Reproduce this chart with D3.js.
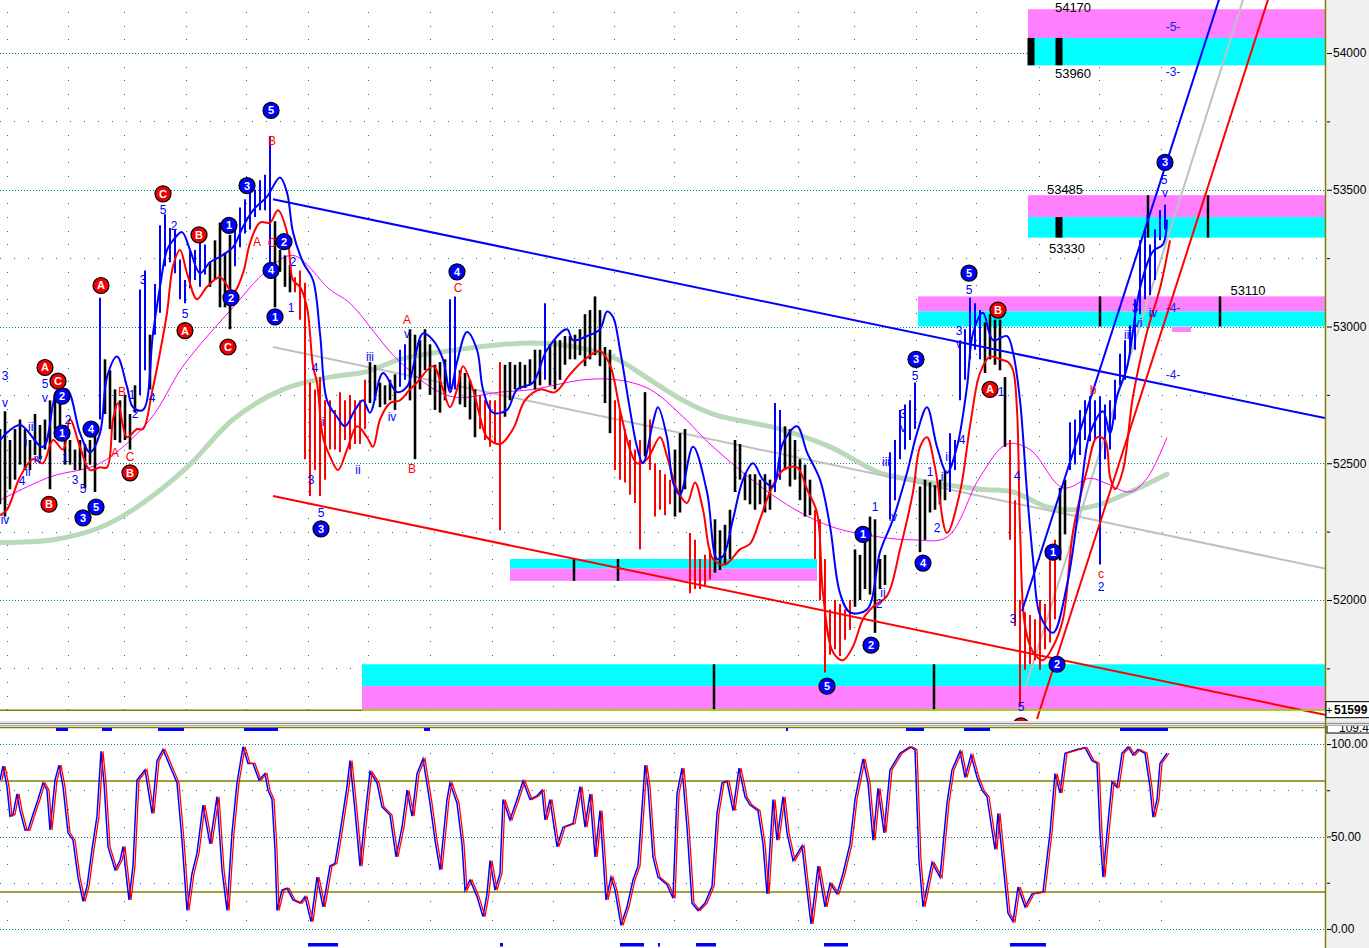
<!DOCTYPE html>
<html>
<head>
<meta charset="utf-8">
<script src="https://cdn.jsdelivr.net/npm/d3@7/dist/d3.min.js"></script>
<style>
  html, body { margin: 0; padding: 0; background: #fff; overflow: hidden; }
  svg { display: block; font-family: "Liberation Sans", Arial, sans-serif; }
</style>
</head>
<body>
<svg id="chart" width="1369" height="948"></svg>
<script>
// ── Data ───────────────────────────────────────────────────────────────────
// time axis is in bar units (one price bar per unit)
const dayTicks = [1.4, 13.6, 24.8, 37.2, 49.2, 61.6, 73.6, 86, 98.4, 110.6, 122.8, 134.8,
  147.2, 159.6, 170.8, 183.2, 195.2, 207.8, 219.8, 232.2];

const priceTicks = [52000, 52500, 53000, 53500, 54000];
const priceMinor = [51750, 52250, 52750, 53250, 53750];
const stochTicks = [0, 50, 100];
const stochMinor = [25, 75];
const stochBands = [20, 80];
const lastPrice = 51599;
const stochTop = 109.4;

const barHigh = [
  52625,52690,52585,52625,52660,52625,52585,52680,52640,52660,52730,52750,52770,52640,52585,52550,52585,52570,52585,52625,
  53105,52880,52840,52770,52730,52750,52680,52785,53135,53205,52970,53155,53370,53410,53360,53355,53245,53170,53280,53280,
  53305,53300,53235,53315,53380,53270,53335,53370,53435,53465,53500,53500,53535,53555,53695,53385,53280,53260,53225,53180,
  53205,53160,52795,52770,52815,52730,52730,52695,52760,52730,52750,52730,52730,52805,52870,52860,52795,52785,52805,52825,
  52915,52935,52990,52970,52950,52990,52935,52860,52870,52880,53100,53110,52840,52830,52805,52770,52750,52730,52730,52730,
  52870,52860,52870,52860,52870,52860,52880,52915,52915,53085,52935,52950,52950,52965,52965,52970,52990,53045,53060,53110,
  53060,52925,52915,52730,52695,52625,52585,52550,52585,52760,52660,52500,52475,52460,52440,52550,52610,52625,52245,52220,
  52150,52165,52185,52295,52255,52275,52330,52585,52570,52465,52460,52460,52440,52460,52440,52720,52695,52635,52625,52585,
  52515,52495,52440,52330,52295,52150,51965,52000,51985,51965,52000,52185,52165,52255,52305,52295,52150,52165,52540,52585,
  52695,52715,52730,52795,52415,52440,52430,52420,52440,52475,52610,52585,52950,52990,53105,53085,53060,53015,53045,53025,
  53025,52815,52585,52365,52000,51955,51945,51930,52000,51985,52145,52220,52410,52440,52650,52660,52695,52730,52745,52730,
  52745,52715,52730,52805,52900,52950,53005,53100,53315,53355,53300,53355,53425,53445
];
const barLow = [
  52350,52305,52405,52440,52495,52475,52475,52530,52515,52550,52405,52625,52585,52495,52495,52475,52475,52410,52495,52395,
  52660,52680,52625,52585,52575,52585,52550,52685,52750,52840,52770,52970,53050,53220,53235,53195,53100,53085,53140,53170,
  53145,53190,53145,53170,53070,53070,52990,53220,53290,53340,53355,53400,53425,53425,53220,53070,53200,53145,53125,53125,
  53025,52515,52380,52475,52380,52440,52550,52550,52540,52585,52550,52570,52570,52625,52720,52730,52705,52715,52730,52695,
  52780,52805,52730,52515,52770,52840,52750,52695,52685,52730,52770,52770,52715,52705,52660,52595,52625,52585,52560,52570,
  52255,52670,52730,52770,52770,52775,52785,52770,52785,52805,52785,52770,52805,52860,52880,52880,52895,52855,52880,52895,
  52855,52720,52610,52475,52440,52430,52385,52355,52185,52525,52475,52305,52330,52310,52350,52305,52320,52405,52025,52040,
  52040,52055,52075,52100,52110,52130,52150,52395,52440,52365,52350,52330,52350,52320,52330,52395,52440,52475,52415,52440,
  52365,52305,52310,52150,52000,51735,51800,51820,51795,51855,51890,51975,52000,52040,52020,51880,52040,52055,52295,52365,
  52515,52550,52585,52625,52175,52220,52320,52330,52350,52365,52395,52475,52730,52805,52880,52915,52880,52830,52880,52860,
  52840,52560,52220,51905,51610,51745,51765,51780,51745,51820,51845,51930,52145,52240,52475,52495,52530,52585,52580,52585,
  52130,52515,52550,52660,52785,52805,52900,52915,53045,53100,53115,53170,53315,53355
];
// runs of bar colouring: [first bar, state] with 0 neutral, 1 up, -1 down
const barTrend = [[0,0],[20,1],[21,0],[28,1],[30,0],[31,1],[42,0],[47,1],[55,0],[59,-1],[74,0],[80,1],
  [82,0],[90,1],[92,0],[96,-1],[101,0],[109,1],[110,0],[123,-1],[129,0],[130,-1],[135,0],[138,-1],[143,0],
  [155,1],[157,0],[163,-1],[171,0],[178,1],[184,0],[190,1],[197,0],[202,-1],[212,0],[214,1]];

const fastLine = [[0,52585],[4,52640],[8.6,52560],[11.4,52760],[13.4,52770],[16,52610],[18,52540],[20,52610],
  [21.4,52815],[23.4,52890],[25.4,52780],[26.6,52705],[28.6,52695],[30.6,52975],[32,53145],[33.4,53280],
  [34.6,53315],[36.4,53345],[38,53280],[40,53195],[42,53235],[44,53255],[46.6,53290],[48.6,53365],[50.6,53425],
  [53.4,53475],[56,53545],[57.4,53490],[58.6,53345],[60.6,53235],[62.6,53170],[64,52975],[65.4,52730],
  [67.4,52670],[69,52635],[71,52695],[72.6,52730],[74,52685],[76.6,52830],[79.4,52760],[81.4,52780],
  [84.6,52975],[86.6,52950],[88.6,52880],[90,52760],[91.4,52870],[93.4,52980],[95.4,52915],[96.6,52770],
  [98.6,52685],[101.4,52695],[103.4,52770],[106.6,52795],[109.4,52915],[113.4,52990],[114.6,52950],
  [117.4,52965],[120,52990],[121.4,53055],[122.6,53035],[124,52915],[126,52695],[127.4,52560],[128.6,52500],
  [130.6,52650],[131.6,52705],[133.4,52595],[134.6,52430],[136,52385],[138.6,52560],[141.4,52395],
  [143.4,52150],[144.6,52160],[146.6,52295],[148.6,52440],[150.6,52500],[152.6,52440],[154.6,52415],
  [156.6,52575],[159.4,52635],[161.4,52540],[164,52440],[166,52270],[168,52025],[170,51955],[173.4,51965],
  [176,52175],[178.6,52295],[181.4,52465],[183.4,52610],[185.4,52705],[187.4,52560],[189.4,52465],
  [191.4,52560],[193.4,52780],[194.6,52975],[196.6,53050],[198.6,52950],[201.4,52965],[202.6,52905],
  [204,52730],[205.4,52395],[206.6,52150],[208,51945],[210.6,51880],[213.4,52055],[216,52370],[218,52610],
  [220.6,52690],[222,52610],[223.4,52745],[225.4,52850],[228,53140],[230.6,53275],[232.6,53300],[233.4,53390]];

const slowLine = [[0,52310],[1.4,52330],[4,52450],[6.6,52515],[8.6,52500],[10.6,52585],[12.6,52550],[14,52660],
  [16,52560],[18,52475],[20,52485],[21.4,52485],[22.6,52660],[23.6,52720],[25.4,52595],[27.4,52625],
  [28.6,52625],[30.4,52760],[32,52905],[33.4,53050],[34.6,53220],[36,53280],[37.4,53195],[39.4,53100],
  [41.4,53145],[44,53180],[46.6,53125],[48.6,53195],[50,53305],[52,53380],[54,53380],[55.6,53425],
  [57.4,53345],[58.6,53170],[60,53145],[61.4,53070],[62.6,52855],[63.4,52795],[64.6,52595],[66,52525],
  [67.6,52475],[69.4,52550],[71.4,52635],[73.4,52595],[74.6,52560],[76,52660],[78,52720],[80,52730],
  [82,52770],[83.4,52795],[86.6,52855],[88.6,52770],[90,52705],[91.4,52770],[92.6,52855],[94.6,52770],
  [96,52670],[97.4,52595],[100,52570],[102.6,52625],[105,52730],[108,52770],[111,52760],[114,52825],
  [117,52880],[120,52910],[122,52860],[124,52695],[126,52550],[127.4,52500],[129.4,52515],[132,52595],
  [133.4,52525],[135.4,52405],[137.4,52355],[139,52430],[140.6,52330],[142.6,52150],[145,52130],[148,52185],
  [150,52205],[152,52295],[154,52395],[156.6,52475],[159.4,52485],[161.4,52405],[163.4,52320],[164.6,52025],
  [166.6,51810],[168.6,51780],[170.6,51830],[172.6,51930],[174.6,51975],[177.4,52015],[180,52185],
  [182.6,52395],[184,52560],[185.4,52595],[187,52485],[189.4,52245],[192,52395],[194,52635],[196,52830],
  [198,52890],[200,52880],[201.6,52870],[202.6,52840],[203.4,52695],[204,52270],[205,51905],[206.6,51810],
  [208.6,51780],[210.6,51830],[212.6,51930],[214.6,52250],[217.4,52475],[219.4,52595],[221,52585],
  [222,52450],[223,52405],[224.6,52475],[226.6,52745],[229.4,52980],[232,53140],[234,53315]];

const longAverage = [[0,52210],[10.6,52220],[20,52265],[26.6,52330],[37.4,52485],[46.6,52660],[56.6,52770],
  [66,52815],[73.4,52835],[80,52880],[93.4,52920],[106.6,52940],[116.6,52920],[123.4,52880],[130,52805],
  [136.6,52730],[142.6,52680],[156,52625],[166,52560],[176,52465],[182.6,52440],[196,52405],[202.6,52395],
  [209.4,52340],[214,52330],[220,52350],[226,52395],[233.4,52460]];

const midAverage = [[0,52365],[10,52450],[20,52500],[30,52660],[36.6,52855],[46.6,53070],[53.4,53205],
  [58.6,53260],[66,53135],[70,53085],[80,52870],[90,52745],[100,52760],[106.6,52770],[116.6,52805],
  [123.4,52805],[130,52770],[136.6,52670],[142.6,52560],[156,52365],[166,52270],[176,52230],[182.6,52220],
  [189.4,52230],[196,52450],[201.4,52570],[206,52550],[212.6,52410],[218,52445],[221.4,52425],[226,52395],
  [229.4,52445],[233.4,52595]];

const upperChannel = [[54.6,53465],[265,52665]];
const lowerChannel = [[54.6,52380],[265,51580]];
const midChannel = [[54.6,52925],[265,52115]];
const rallyFast = [[204.4,51960],[243.8,54195]];
const rallyMid = [[205,51675],[248.6,54195]];
const rallySlow = [[207.4,51565],[253.6,54195]];

const zones = [
  { from: 205.6, to: 265, hi: 54160, mid: 54055, lo: 53955, kind: 'resist' },
  { from: 205.6, to: 265, hi: 53480, mid: 53400, lo: 53325, kind: 'resist' },
  { from: 183.6, to: 265, hi: 53110, mid: 53055, lo: 53000, kind: 'resist' },
  { from: 102, to: 163.4, hi: 52150, mid: 52115, lo: 52070, kind: 'support' },
  { from: 72.4, to: 265, hi: 51765, mid: 51685, lo: 51600, kind: 'support' }
];
const zoneMarksHeavy = [[206.2,53955,54055],[211.8,53955,54055],[211.8,53325,53400]];
const zoneMarks = [[229.6,53325,53480],[241.6,53325,53480],[220,53000,53110],[244,53000,53110],
  [114.8,52070,52150],[123.6,52070,52150],[142.8,51600,51765],[186.8,51600,51765]];
const smallBox = [234.4, 238.2, 52998, 52980];

const levelTags = [[214.6,54150,'54170'],[214.6,53910,'53960'],[213,53485,'53485'],[213.4,53270,'53330'],[249.6,53115,'53110']];
const targetTags = [[234.6,54095,'-5-'],[234.6,53930,'-3-'],[234.6,53070,'-4-'],[234.6,52825,'-4-']];

const blueCircles = [[54.2,53790,'5'],[49.4,53515,'3'],[45.8,53370,'1'],[46.2,53105,'2'],[56.8,53310,'2'],
  [54.2,53205,'4'],[55,53035,'1'],[12.4,52745,'2'],[12.4,52610,'1'],[18.2,52625,'4'],[16.6,52300,'3'],
  [19.2,52340,'5'],[64.2,52260,'3'],[91.4,53200,'4'],[165.4,51685,'5'],[174.2,51835,'2'],[172.6,52240,'1'],
  [183.2,52880,'3'],[184.6,52135,'4'],[193.8,53195,'5'],[210.6,52175,'1'],[211.4,51765,'2'],[233,53600,'3']];
const redCircles = [[32.6,53485,'C'],[39.8,53335,'B'],[37,52985,'A'],[45.6,52925,'C'],[20.2,53150,'A'],
  [9,52850,'A'],[11.6,52800,'C'],[26,52465,'B'],[9.8,52350,'B'],[199.6,53060,'B'],[198,52770,'A'],[204.2,51540,'C']];
const blueTags = [[1,52820,'3'],[1,52720,'v'],[9,52790,'5'],[9,52740,'v'],[6.4,52635,'iii'],[5.2,52580,'i'],
  [7.6,52515,'iv'],[5.6,52470,'ii'],[4.4,52435,'4'],[1,52295,'iv'],[13.6,52660,'2'],[13,52520,'1'],[15,52440,'3'],
  [16.6,52405,'5'],[26.4,52750,'1'],[27,52680,'2'],[30.4,52740,'4'],[28.6,53170,'3'],[32.6,53425,'5'],
  [34.8,53370,'2'],[37,53045,'5'],[58.2,53070,'1'],[58.6,53235,'2'],[63,52850,'4'],[62.2,52440,'3'],
  [64.2,52320,'5'],[74,52890,'iii'],[81.4,52975,'v'],[78.4,52670,'iv'],[71.6,52475,'ii'],[64.6,52650,'i'],
  [193.8,53135,'5'],[191.8,52985,'3'],[191.8,52935,'v'],[183,52820,'5'],[180.6,52680,'3'],[180.6,52630,'v'],
  [177.2,52505,'iii'],[178.6,52305,'iv'],[192.4,52585,'4'],[189.6,52525,'ii'],[188.4,52450,'i'],[186,52470,'1'],
  [187.4,52265,'2'],[175,52340,'1'],[176.6,52025,'ii'],[175.8,51985,'2'],[202.6,51930,'3'],[203.4,52455,'4'],
  [204.2,51610,'5'],[200.2,52760,'1'],[220.2,52050,'2'],[227,53070,'3'],[227.6,53015,'vi'],[225.6,52970,'iii'],
  [230.6,53050,'iv'],[229.4,53400,'i'],[232.8,53535,'5'],[233,53490,'v']];
const redTags = [[54.4,53680,'B'],[51.4,53310,'A'],[54.4,53305,'C'],[23,52540,'A'],[26,52525,'C'],[24.4,52760,'B'],
  [81.4,53025,'A'],[82.4,52480,'B'],[91.6,53140,'C'],[220.2,52095,'c'],[218.6,52770,'b']];

// stochastic oscillator: %K and the lagging %D
const stochK = [[0,80.5],[0.6,88],[1.4,77],[2,61],[2.6,62],[3.4,73],[4,64],[5,53.5],[5.6,53.5],[6.6,62],[7.6,70],
  [8.6,79],[9.4,75],[10,53.5],[11,80.5],[11.8,88.6],[12.6,77],[13.6,52],[14.6,48],[15.6,28],[16.6,15],[17.4,23],
  [18.4,43],[19.4,61],[20.2,96],[20.8,79],[21.6,44.5],[23,32],[24,37],[24.6,44.5],[25.8,15.7],[26.6,34],[27.4,80.5],
  [29,86],[30.4,62.5],[31.4,91],[32.6,97],[34,88],[35.4,79],[36.4,48],[37.4,10],[38.4,30],[39.4,41],[40.6,67],
  [42,46],[43.4,71.5],[44.4,32],[45.4,10],[46.4,52],[47.4,79],[48.6,98.5],[49.6,89.5],[50.6,89.5],[51.8,80.5],
  [53,84],[53.6,75],[54.4,70],[55,43],[55.4,10],[56.4,21],[57.4,22],[58.6,15.7],[60,14],[61,17.5],[62.2,4],
  [63.4,28],[64.6,12],[66,34],[67,35.5],[68,52],[69.4,77],[70,91],[71,64],[72,34],[73,61],[74,85],[75.4,79],
  [76.4,66],[78,61.6],[79.2,39],[80.4,55],[81.4,75],[82.4,61],[83.4,84],[84.6,92],[86,68],[87,48],[88,32],
  [89.4,70],[90,79],[91.4,68],[92.4,46],[93,21],[94,26.5],[95.4,17.5],[96.6,6.7],[97.4,19],[98,37],[99,21],
  [100,30],[100.6,70],[102,59],[103.4,70],[104.6,80],[106,70],[107.4,72],[108.4,75],[109,59],[110,70],[111.4,44.5],
  [112.6,55],[114.6,57],[116,77],[117,55],[118,73],[119,39],[120,64],[121.2,15.7],[122.2,28],[123,21],[124.2,2],
  [125.4,12],[126.6,26.5],[127.6,34],[129,88.6],[129.6,77],[130.6,39],[131.6,28],[133.4,24],[134.6,16.6],
  [135.4,73],[136.4,87],[137.4,55],[138.4,14],[139.6,10],[141,14],[142.4,23],[143.4,62.5],[144.4,79],[145.4,80],
  [146.6,64],[147.8,87],[149,71.5],[150,67],[151.6,64],[152.6,46],[153.4,19],[154.6,70],[155.4,48],[156.6,71.5],
  [157.4,52],[158.6,37],[160.4,45],[161.4,21],[162.2,2.7],[163.6,34],[165,12],[166,24.7],[167.4,19],[168.6,30],
  [170,46],[171,70],[172.6,92],[173.6,79],[174.6,48],[175.6,76],[176.8,52],[178,86],[180,95],[182,98.5],[183,97],
  [183.8,37],[184.6,12],[186.4,36],[188,28],[189.4,68],[190.4,86],[192,96],[193,82],[194.2,94],[195.4,82],
  [196.4,75],[197.4,71.5],[198.4,53.5],[199,43],[199.6,62.5],[200.6,35.5],[201.6,8.5],[202.6,4],[203.6,22.7],
  [205,12],[206.4,19],[208.6,20],[210,52],[211,84],[212,73.5],[213,95],[215.4,97],[217,98],[218.4,91],[219.4,89.6],
  [220,52],[220.6,28],[221.4,52],[222.4,79.5],[223.4,76.6],[224.4,95],[225.6,98.4],[226.6,94],[227.6,97],[229,95],
  [230,76.6],[230.6,60.5],[231.4,70],[232,89.6],[233.4,95]];
const stochD = [[0.4,80.5],[1,88],[1.8,77],[2.4,61],[3,62],[3.8,73],[4.4,64],[5.4,53.5],[6,53.5],[7,62],[8,70],
  [9,79],[9.8,75],[10.4,53.5],[11.4,80.5],[12.2,88.6],[13,77],[14,52],[15,48],[16,28],[17,15],[17.8,23],
  [18.8,43],[19.8,61],[20.6,96],[21.2,79],[22,44.5],[23.4,32],[24.4,37],[25,44.5],[26.2,15.7],[27,34],[27.8,80.5],
  [29.4,86],[30.8,62.5],[31.8,91],[33,97],[34.4,88],[35.8,79],[36.8,48],[37.8,10],[38.8,30],[39.8,41],[41,67],
  [42.4,46],[43.8,71.5],[44.8,32],[45.8,10],[46.8,52],[47.8,79],[49,98.5],[50,89.5],[51,89.5],[52.2,80.5],
  [53.4,84],[54,75],[54.8,70],[55.4,43],[55.8,10],[56.8,21],[57.8,22],[59,15.7],[60.4,14],[61.4,17.5],[62.6,4],
  [63.8,28],[65,12],[66.4,34],[67.4,35.5],[68.4,52],[69.8,77],[70.4,91],[71.4,64],[72.4,34],[73.4,61],[74.4,85],
  [75.8,79],[76.8,66],[78.4,61.6],[79.6,39],[80.8,55],[81.8,75],[82.8,61],[83.8,84],[85,92],[86.4,68],[87.4,48],
  [88.4,32],[89.8,70],[90.4,79],[91.8,68],[92.8,46],[93.4,21],[94.4,26.5],[95.8,17.5],[97,6.7],[97.8,19],[98.4,37],
  [99.4,21],[100.4,30],[101,70],[102.4,59],[103.8,70],[105,80],[106.4,70],[107.8,72],[108.8,75],[109.4,59],
  [110.4,70],[111.8,44.5],[113,55],[115,57],[116.4,77],[117.4,55],[118.4,73],[119.4,39],[120.4,64],[121.6,15.7],
  [122.6,28],[123.4,21],[124.6,2],[125.8,12],[127,26.5],[128,34],[129.4,88.6],[130,77],[131,39],[132,28],
  [133.8,24],[135,16.6],[135.8,73],[136.8,87],[137.8,55],[138.8,14],[140,10],[141.4,14],[142.8,23],[143.8,62.5],
  [144.8,79],[145.8,80],[147,64],[148.2,87],[149.4,71.5],[150.4,67],[152,64],[153,46],[153.8,19],[155,70],
  [155.8,48],[157,71.5],[157.8,52],[159,37],[160.8,45],[161.8,21],[162.6,2.7],[164,34],[165.4,12],[166.4,24.7],
  [167.8,19],[169,30],[170.4,46],[171.4,70],[173,92],[174,79],[175,48],[176,76],[177.2,52],[178.4,86],[180.4,95],
  [182.4,98.5],[183.4,97],[184.2,37],[185,12],[186.8,36],[188.4,28],[189.8,68],[190.8,86],[192.4,96],[193.4,82],
  [194.6,94],[195.8,82],[196.8,75],[197.8,71.5],[198.8,53.5],[199.4,43],[200,62.5],[201,35.5],[202,8.5],[203,4],
  [204,22.7],[205.4,12],[206.8,19],[209,20],[210.4,52],[211.4,84],[212.4,73.5],[213.4,95],[215.8,97],[217.4,98],
  [218.8,91],[219.8,89.6],[220.4,52],[221,28],[221.8,52],[222.8,79.5],[223.8,76.6],[224.8,95],[226,98.4],[227,94],
  [228,97],[229.4,95],[230.4,76.6],[231,60.5],[231.8,70],[232.4,89.6],[233.8,95]];
const overboughtRuns = [[11.2,13.6],[20.4,22.4],[31.6,36.8],[48.8,55.6],[84.8,86],[157.2,157.6],[181.2,184.8],[192.8,198],[224,233.6]];
const oversoldRuns = [[61.6,67.6],[100,100.6],[124,128.8],[131.6,132],[139.2,143.2],[164.8,169.6],[202,209.2]];

// ── Layout ─────────────────────────────────────────────────────────────────
const W = 1369, H = 948;
const plotRight = 1325;
const mainClipBottom = 722;
const lowerTop = 727;

const svg = d3.select('#chart');
const x = d3.scaleLinear().domain([0, 265]).range([0, plotRight]);
const y = d3.scaleLinear().domain([52000, 54000]).range([600, 53]);
const ys = d3.scaleLinear().domain([0, 100]).range([929, 744]);

const TEAL = '#008080', OLIVE = '#808000', BLUE = '#0000ff', RED = '#ff0000';
const MAGENTA_ZONE = '#ff80ff', CYAN_ZONE = '#00ffff';

const defs = svg.append('defs');
defs.append('clipPath').attr('id', 'clip-main')
  .append('rect').attr('x', 0).attr('y', 0).attr('width', plotRight).attr('height', mainClipBottom);
defs.append('clipPath').attr('id', 'clip-lower')
  .append('rect').attr('x', 0).attr('y', lowerTop + 1).attr('width', plotRight).attr('height', H - lowerTop);

svg.append('rect').attr('width', W).attr('height', H).attr('fill', '#fff');
svg.append('rect').attr('x', plotRight).attr('y', 0).attr('width', W - plotRight).attr('height', H).attr('fill', '#f0f0f0');

// ── Grid ───────────────────────────────────────────────────────────────────
const grid = svg.append('g');
function dots(g, pts) {
  g.selectAll(null).data(pts).join('rect')
    .attr('x', d => Math.round(d[0])).attr('y', d => Math.round(d[1]))
    .attr('width', 1).attr('height', 1).attr('fill', TEAL);
}
const mainDots = [];
d3.range(51600, 54201, 50).filter(p => p % 250 !== 0).forEach(p => {
  dayTicks.forEach(t => mainDots.push([x(t), y(p)]));
});
priceMinor.forEach(p => d3.range(0, plotRight, 14).forEach(px => mainDots.push([px, y(p)])));
dots(grid, mainDots);

grid.selectAll('.pgrid').data(priceTicks).join('line')
  .attr('x1', 0).attr('x2', plotRight)
  .attr('y1', d => Math.round(y(d)) + 0.5).attr('y2', d => Math.round(y(d)) + 0.5)
  .attr('stroke', TEAL).attr('stroke-dasharray', '1,2');

const lowerDots = [];
[5, 15, 35, 45, 55, 65, 85, 95].forEach(v => dayTicks.forEach(t => lowerDots.push([x(t), ys(v)])));
stochMinor.forEach(v => d3.range(0, plotRight, 14).forEach(px => lowerDots.push([px, ys(v)])));
dots(grid, lowerDots);

grid.selectAll('.sgrid').data(stochTicks).join('line')
  .attr('x1', 0).attr('x2', plotRight)
  .attr('y1', d => Math.round(ys(d)) + 0.5).attr('y2', d => Math.round(ys(d)) + 0.5)
  .attr('stroke', TEAL).attr('stroke-dasharray', '1,2');
grid.selectAll('.sband').data(stochBands).join('line')
  .attr('x1', 0).attr('x2', plotRight)
  .attr('y1', d => ys(d)).attr('y2', d => ys(d))
  .attr('stroke', OLIVE).attr('stroke-width', 1.5);

// ── Main panel ─────────────────────────────────────────────────────────────
const main = svg.append('g').attr('clip-path', 'url(#clip-main)');

zones.forEach(z => {
  const top = z.kind === 'resist' ? MAGENTA_ZONE : CYAN_ZONE;
  const bottom = z.kind === 'resist' ? CYAN_ZONE : MAGENTA_ZONE;
  main.append('rect').attr('x', x(z.from)).attr('width', x(z.to) - x(z.from))
    .attr('y', y(z.hi)).attr('height', y(z.mid) - y(z.hi)).attr('fill', top);
  main.append('rect').attr('x', x(z.from)).attr('width', x(z.to) - x(z.from))
    .attr('y', y(z.mid)).attr('height', y(z.lo) - y(z.mid)).attr('fill', bottom);
});
main.append('rect').attr('x', x(smallBox[0])).attr('width', x(smallBox[1]) - x(smallBox[0]))
  .attr('y', y(smallBox[2])).attr('height', y(smallBox[3]) - y(smallBox[2])).attr('fill', MAGENTA_ZONE);

main.selectAll('.zmh').data(zoneMarksHeavy).join('rect')
  .attr('x', d => x(d[0]) - 3.5).attr('width', 7)
  .attr('y', d => y(d[2])).attr('height', d => y(d[1]) - y(d[2])).attr('fill', '#000');
main.selectAll('.zm').data(zoneMarks).join('line')
  .attr('x1', d => x(d[0])).attr('x2', d => x(d[0]))
  .attr('y1', d => y(d[2])).attr('y2', d => y(d[1]))
  .attr('stroke', '#000').attr('stroke-width', 2.5);

const lineT = d3.line().x(d => x(d[0])).y(d => y(d[1]));
const smooth = d3.line().x(d => x(d[0])).y(d => y(d[1])).curve(d3.curveCatmullRom.alpha(0.5));

main.append('path').attr('d', smooth(longAverage)).attr('fill', 'none')
  .attr('stroke', '#b9d9b9').attr('stroke-width', 5).attr('stroke-linecap', 'round');
main.append('path').attr('d', lineT(midChannel)).attr('fill', 'none').attr('stroke', '#c0c0c0').attr('stroke-width', 2);
main.append('path').attr('d', lineT(rallyMid)).attr('fill', 'none').attr('stroke', '#c0c0c0').attr('stroke-width', 2);
main.append('path').attr('d', smooth(midAverage)).attr('fill', 'none').attr('stroke', '#ff00ff').attr('stroke-width', 1);

function trendAt(i) {
  let s = 0;
  for (const [start, code] of barTrend) if (i >= start) s = code;
  return s;
}
const barColor = { '0': '#000', '1': BLUE, '-1': RED };
main.selectAll('.bar').data(barHigh.map((h, i) => ({ i, h, l: barLow[i], s: trendAt(i) }))).join('line')
  .attr('x1', d => x(d.i)).attr('x2', d => x(d.i))
  .attr('y1', d => y(d.h)).attr('y2', d => y(d.l))
  .attr('stroke', d => barColor[d.s])
  .attr('stroke-width', d => d.s === 0 ? 2.6 : 2);

main.append('path').attr('d', smooth(slowLine)).attr('fill', 'none').attr('stroke', RED).attr('stroke-width', 2);
main.append('path').attr('d', smooth(fastLine)).attr('fill', 'none').attr('stroke', BLUE).attr('stroke-width', 2);

main.append('path').attr('d', lineT(upperChannel)).attr('fill', 'none').attr('stroke', BLUE).attr('stroke-width', 2);
main.append('path').attr('d', lineT(lowerChannel)).attr('fill', 'none').attr('stroke', RED).attr('stroke-width', 2);
main.append('path').attr('d', lineT(rallyFast)).attr('fill', 'none').attr('stroke', BLUE).attr('stroke-width', 2);
main.append('path').attr('d', lineT(rallySlow)).attr('fill', 'none').attr('stroke', RED).attr('stroke-width', 2);

// panel bottom border
main.append('line').attr('x1', 0).attr('x2', plotRight).attr('y1', y(lastPrice) + 0.5).attr('y2', y(lastPrice) + 0.5)
  .attr('stroke', OLIVE).attr('stroke-width', 1.5);
main.append('line').attr('x1', x(zones[4].from)).attr('x2', plotRight)
  .attr('y1', y(lastPrice) + 0.5).attr('y2', y(lastPrice) + 0.5)
  .attr('stroke', '#99dd00').attr('stroke-width', 1.5);

// ── Labels ─────────────────────────────────────────────────────────────────
const labels = main.append('g');
labels.selectAll('.lvl').data(levelTags).join('text')
  .attr('x', d => x(d[0])).attr('y', d => y(d[1]))
  .attr('text-anchor', 'middle').attr('font-size', 13).attr('fill', '#000').text(d => d[2]);
labels.selectAll('.tgt').data(targetTags).join('text')
  .attr('x', d => x(d[0])).attr('y', d => y(d[1])).attr('dy', '0.35em')
  .attr('text-anchor', 'middle').attr('font-size', 12).attr('fill', '#2020e0').text(d => d[2]);

function tags(data, color) {
  labels.selectAll(null).data(data).join('text')
    .attr('x', d => x(d[0])).attr('y', d => y(d[1])).attr('dy', '0.35em')
    .attr('text-anchor', 'middle').attr('font-size', 12).attr('fill', color).text(d => d[2]);
}
tags(blueTags, BLUE);
tags(redTags, RED);

function circles(data, color) {
  const g = labels.selectAll(null).data(data).join('g')
    .attr('transform', d => `translate(${x(d[0])},${y(d[1])})`);
  g.append('circle').attr('r', 8).attr('fill', color).attr('stroke', '#000').attr('stroke-width', 1.2);
  g.append('text').attr('dy', '0.36em').attr('text-anchor', 'middle')
    .attr('font-size', 11).attr('font-weight', 'bold').attr('fill', '#fff').text(d => d[2]);
}
circles(blueCircles, BLUE);
circles(redCircles, '#ee0000');

// ── Separator ──────────────────────────────────────────────────────────────
svg.append('rect').attr('x', 0).attr('y', 721).attr('width', W).attr('height', 5).attr('fill', '#e4e4e4');
svg.append('line').attr('x1', 0).attr('x2', W).attr('y1', 723.5).attr('y2', 723.5).attr('stroke', '#8c8c8c');
svg.append('line').attr('x1', 0).attr('x2', W).attr('y1', 725.5).attr('y2', 725.5).attr('stroke', '#b0b0b0');
svg.append('line').attr('x1', 0).attr('x2', plotRight).attr('y1', lowerTop + 0.5).attr('y2', lowerTop + 0.5)
  .attr('stroke', OLIVE).attr('stroke-width', 1.5);

// ── Lower panel ────────────────────────────────────────────────────────────
const lower = svg.append('g').attr('clip-path', 'url(#clip-lower)');
const stochLine = d3.line().x(d => x(d[0])).y(d => ys(d[1]));
lower.append('path').attr('d', stochLine(stochK)).attr('fill', 'none').attr('stroke', BLUE).attr('stroke-width', 1.5);
lower.append('path').attr('d', stochLine(stochD)).attr('fill', 'none').attr('stroke', RED).attr('stroke-width', 1.3);

svg.selectAll('.ob').data(overboughtRuns).join('rect')
  .attr('x', d => x(d[0])).attr('width', d => Math.max(2, x(d[1]) - x(d[0])))
  .attr('y', 728).attr('height', 3).attr('fill', BLUE);
svg.selectAll('.os').data(oversoldRuns).join('rect')
  .attr('x', d => x(d[0])).attr('width', d => Math.max(2, x(d[1]) - x(d[0])))
  .attr('y', 943).attr('height', 3.5).attr('fill', BLUE);

// ── Axes ───────────────────────────────────────────────────────────────────
svg.append('line').attr('x1', plotRight + 0.5).attr('x2', plotRight + 0.5).attr('y1', 0).attr('y2', H)
  .attr('stroke', OLIVE).attr('stroke-width', 1.5);

function styleAxis(g) {
  g.select('.domain').remove();
  g.selectAll('.tick line').attr('stroke', '#000');
  g.selectAll('.tick text').attr('font-size', 12).attr('fill', '#000')
    .attr('font-family', '"Liberation Sans", Arial, sans-serif');
}
svg.append('g').attr('transform', `translate(${plotRight + 2},0)`)
  .call(d3.axisRight(y).tickValues(priceTicks).tickSize(5).tickPadding(1).tickFormat(d3.format('d')))
  .call(styleAxis);
svg.append('g').attr('transform', `translate(${plotRight + 2},0)`)
  .call(d3.axisRight(y).tickValues(priceMinor).tickSize(3).tickFormat(''))
  .call(styleAxis);
svg.append('g').attr('transform', `translate(${plotRight + 2},0)`)
  .call(d3.axisRight(ys).tickValues(stochTicks).tickSize(4).tickPadding(0).tickFormat(d3.format('.2f')))
  .call(styleAxis);
svg.append('g').attr('transform', `translate(${plotRight + 2},0)`)
  .call(d3.axisRight(ys).tickValues(stochMinor).tickSize(3).tickFormat(''))
  .call(styleAxis);

// last price box
const lp = svg.append('g').attr('transform', `translate(${plotRight},${y(lastPrice)})`);
lp.append('rect').attr('x', 1).attr('y', -8).attr('width', 50).attr('height', 16)
  .attr('fill', '#fff').attr('stroke', '#000');
lp.append('text').attr('x', 1).attr('y', 0).attr('dy', '0.35em').attr('font-size', 11).text('+');
lp.append('text').attr('x', 9).attr('y', 0).attr('dy', '0.36em').attr('font-size', 12).attr('font-weight', 'bold')
  .text(d3.format('d')(lastPrice));

// oscillator top value, half hidden behind the separator
defs.append('clipPath').attr('id', 'clip-top')
  .append('rect').attr('x', plotRight).attr('y', 726).attr('width', W - plotRight).attr('height', 20);
const tv = svg.append('g').attr('clip-path', 'url(#clip-top)');
tv.append('rect').attr('x', plotRight + 2).attr('y', 718).attr('width', 48).attr('height', 15)
  .attr('fill', '#fff').attr('stroke', '#000');
tv.append('text').attr('x', plotRight + 14).attr('y', 732).attr('font-size', 12).text(stochTop);
</script>
</body>
</html>
